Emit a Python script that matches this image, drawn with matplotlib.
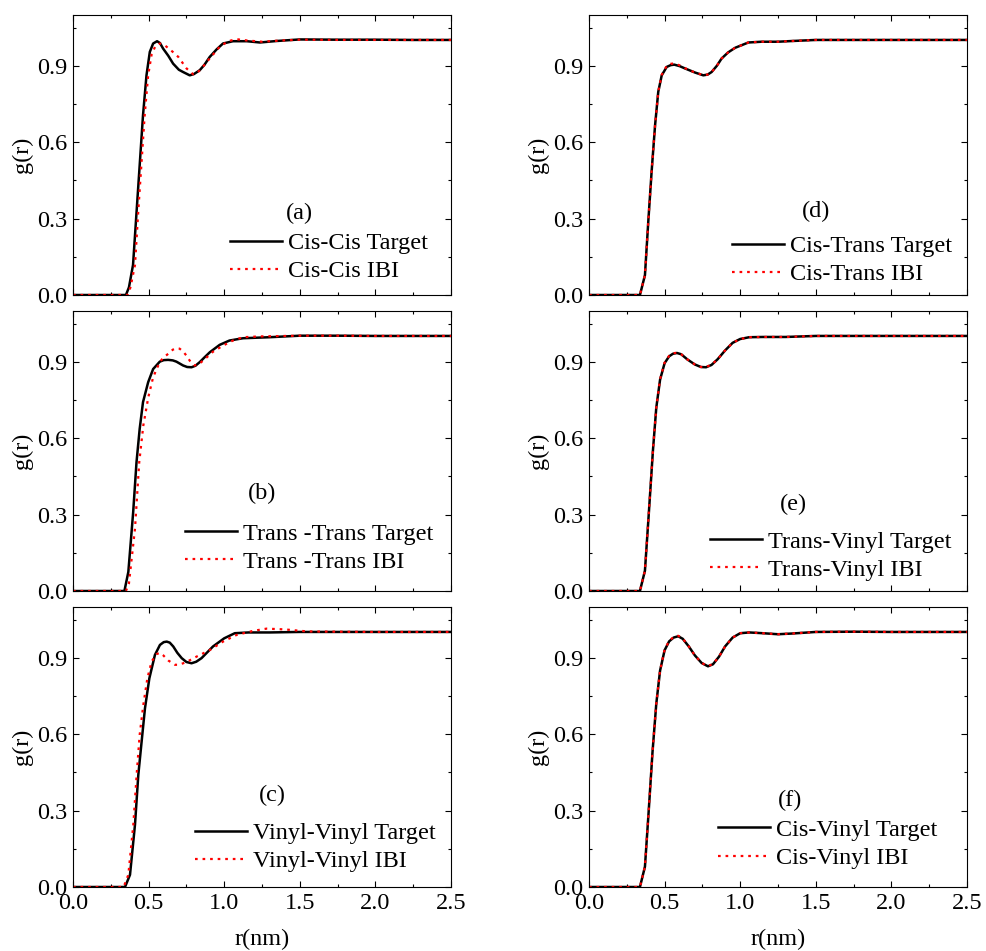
import numpy as np
import matplotlib
matplotlib.use('Agg')
import matplotlib.pyplot as plt
from matplotlib.ticker import MultipleLocator

plt.rcParams['font.family'] = ['Liberation Serif', 'DejaVu Serif']
plt.rcParams['font.size'] = 17.5

# ---- data (r in nm, g(r)) ----
# (a) Cis-Cis
ra_t = [0.0, 0.30, 0.35, 0.37, 0.397, 0.419, 0.441, 0.463, 0.486, 0.508, 0.53, 0.556, 0.575, 0.596, 0.63,
        0.662, 0.70, 0.728, 0.772, 0.80, 0.838, 0.87, 0.904, 0.95, 0.992, 1.058, 1.15, 1.236, 1.35, 1.5,
        1.75, 2.0, 2.25, 2.5]
ga_t = [0.0, 0.0, 0.0, 0.03, 0.118, 0.314, 0.51, 0.706, 0.863, 0.955, 0.988, 0.997, 0.99, 0.968, 0.94,
        0.909, 0.885, 0.876, 0.863, 0.868, 0.883, 0.905, 0.935, 0.965, 0.988, 0.997, 0.997, 0.992, 0.998, 1.004,
        1.003, 1.003, 1.002, 1.002]
ra_i = [0.0, 0.30, 0.36, 0.38, 0.41, 0.43, 0.452, 0.474, 0.497, 0.52, 0.545, 0.575, 0.60, 0.63, 0.66,
        0.697, 0.751, 0.795, 0.82, 0.85, 0.905, 0.97, 1.026, 1.08, 1.15, 1.25, 1.35, 1.5, 1.75, 2.0,
        2.25, 2.5]
ga_i = [0.0, 0.0, 0.0, 0.03, 0.118, 0.314, 0.51, 0.706, 0.863, 0.945, 0.978, 0.988, 0.984, 0.97, 0.955,
        0.935, 0.89, 0.867, 0.872, 0.89, 0.93, 0.975, 0.997, 1.005, 1.0, 0.995, 0.999, 1.003, 1.002, 1.002,
        1.002, 1.002]

# (b) Trans-Trans
rb_t = [0.0, 0.30, 0.34, 0.366, 0.398, 0.42, 0.441, 0.463, 0.497, 0.53, 0.574, 0.60, 0.629, 0.66, 0.684,
        0.728, 0.755, 0.784, 0.81, 0.838, 0.87, 0.905, 0.97, 1.035, 1.125, 1.3, 1.5, 1.75, 2.0, 2.25, 2.5]
gb_t = [0.0, 0.0, 0.0, 0.075, 0.31, 0.506, 0.637, 0.742, 0.82, 0.872, 0.901, 0.907, 0.908, 0.906, 0.901,
        0.886, 0.88, 0.879, 0.885, 0.899, 0.918, 0.938, 0.967, 0.984, 0.993, 0.997, 1.003, 1.003, 1.002, 1.002, 1.002]
rb_i = [0.0, 0.30, 0.35, 0.37, 0.41, 0.438, 0.465, 0.498, 0.53, 0.574, 0.60, 0.63, 0.66, 0.684, 0.705,
        0.728, 0.75, 0.772, 0.805, 0.83, 0.86, 0.926, 0.992, 1.058, 1.125, 1.23, 1.5, 1.75, 2.0, 2.25, 2.5]
gb_i = [0.0, 0.0, 0.0, 0.03, 0.245, 0.506, 0.65, 0.761, 0.84, 0.9, 0.918, 0.932, 0.948, 0.954, 0.952,
        0.941, 0.925, 0.905, 0.886, 0.89, 0.905, 0.94, 0.964, 0.984, 0.997, 1.0, 1.003, 1.003, 1.002, 1.002, 1.002]

# (c) Vinyl-Vinyl
rc_t = [0.0, 0.30, 0.344, 0.377, 0.41, 0.432, 0.454, 0.476, 0.505, 0.542, 0.575, 0.60, 0.62, 0.64, 0.663,
        0.69, 0.719, 0.75, 0.784, 0.815, 0.85, 0.926, 1.0, 1.07, 1.16, 1.3, 1.5, 1.75, 2.0, 2.25, 2.5]
gc_t = [0.0, 0.0, 0.0, 0.048, 0.245, 0.441, 0.572, 0.702, 0.82, 0.912, 0.951, 0.962, 0.964, 0.96, 0.945,
        0.92, 0.899, 0.884, 0.879, 0.885, 0.899, 0.945, 0.977, 0.997, 1.0, 1.0, 1.002, 1.002, 1.002, 1.002, 1.002]
rc_i = [0.0, 0.30, 0.335, 0.366, 0.399, 0.421, 0.441, 0.465, 0.492, 0.52, 0.553, 0.575, 0.597, 0.63, 0.674,
        0.70, 0.729, 0.77, 0.817, 0.905, 0.992, 1.081, 1.19, 1.28, 1.4, 1.55, 1.75, 2.0, 2.25, 2.5]
gc_i = [0.0, 0.0, 0.0, 0.048, 0.245, 0.441, 0.598, 0.715, 0.82, 0.886, 0.915, 0.92, 0.91, 0.89, 0.873,
        0.873, 0.879, 0.89, 0.905, 0.931, 0.964, 0.99, 1.006, 1.015, 1.012, 1.004, 1.003, 1.002, 1.002, 1.002]

# (d) Cis-Trans
rd_t = [0.0, 0.30, 0.337, 0.37, 0.392, 0.414, 0.437, 0.458, 0.481, 0.514, 0.54, 0.564, 0.60, 0.635, 0.701,
        0.756, 0.785, 0.811, 0.845, 0.877, 0.92, 0.966, 1.054, 1.14, 1.25, 1.35, 1.5, 1.75, 2.0, 2.25, 2.5]
gd_t = [0.0, 0.0, 0.0, 0.078, 0.288, 0.484, 0.667, 0.798, 0.863, 0.896, 0.903, 0.905, 0.899, 0.89, 0.874,
        0.863, 0.866, 0.876, 0.9, 0.929, 0.953, 0.971, 0.992, 0.995, 0.995, 0.998, 1.002, 1.002, 1.002, 1.002, 1.002]
rd_i = [0.0, 0.30, 0.337, 0.37, 0.392, 0.414, 0.437, 0.458, 0.481, 0.514, 0.54, 0.564, 0.60, 0.635, 0.701,
        0.756, 0.785, 0.811, 0.845, 0.877, 0.92, 0.966, 1.054, 1.14, 1.25, 1.35, 1.5, 1.75, 2.0, 2.25, 2.5]
gd_i = [0.0, 0.0, 0.0, 0.078, 0.288, 0.484, 0.667, 0.798, 0.865, 0.9, 0.908, 0.91, 0.902, 0.891, 0.874,
        0.864, 0.866, 0.876, 0.9, 0.929, 0.953, 0.971, 0.992, 0.995, 0.995, 0.998, 1.002, 1.002, 1.002, 1.002, 1.002]

# (e) Trans-Vinyl
re_t = [0.0, 0.30, 0.337, 0.37, 0.395, 0.423, 0.445, 0.47, 0.50, 0.53, 0.555, 0.582, 0.61, 0.65, 0.70,
        0.74, 0.774, 0.81, 0.85, 0.90, 0.95, 1.0, 1.06, 1.15, 1.3, 1.5, 1.75, 2.0, 2.25, 2.5]
ge_t = [0.0, 0.0, 0.0, 0.08, 0.3, 0.553, 0.72, 0.83, 0.895, 0.922, 0.932, 0.935, 0.93, 0.91, 0.89,
        0.88, 0.879, 0.888, 0.91, 0.945, 0.975, 0.99, 0.997, 0.998, 0.998, 1.002, 1.002, 1.002, 1.002, 1.002]
re_i = [0.0, 0.30, 0.337, 0.37, 0.395, 0.423, 0.445, 0.47, 0.50, 0.53, 0.555, 0.582, 0.61, 0.65, 0.70,
        0.74, 0.774, 0.81, 0.85, 0.90, 0.95, 1.0, 1.06, 1.15, 1.3, 1.5, 1.75, 2.0, 2.25, 2.5]
ge_i = [0.0, 0.0, 0.0, 0.08, 0.3, 0.553, 0.72, 0.832, 0.897, 0.924, 0.934, 0.936, 0.93, 0.91, 0.89,
        0.88, 0.88, 0.889, 0.91, 0.945, 0.975, 0.99, 0.997, 0.998, 0.998, 1.002, 1.002, 1.002, 1.002, 1.002]

# (f) Cis-Vinyl
rf_t = [0.0, 0.30, 0.337, 0.37, 0.395, 0.42, 0.445, 0.47, 0.50, 0.53, 0.56, 0.59, 0.62, 0.66, 0.70,
        0.745, 0.787, 0.82, 0.86, 0.90, 0.95, 1.0, 1.06, 1.15, 1.25, 1.35, 1.5, 1.75, 2.0, 2.25, 2.5]
gf_t = [0.0, 0.0, 0.0, 0.08, 0.3, 0.53, 0.72, 0.85, 0.93, 0.965, 0.98, 0.985, 0.975, 0.945, 0.91,
        0.88, 0.867, 0.875, 0.905, 0.945, 0.98, 0.997, 1.0, 0.997, 0.993, 0.996, 1.002, 1.003, 1.002, 1.002, 1.002]
rf_i = [0.0, 0.30, 0.337, 0.37, 0.395, 0.42, 0.445, 0.47, 0.50, 0.53, 0.56, 0.59, 0.62, 0.66, 0.70,
        0.745, 0.787, 0.82, 0.86, 0.90, 0.95, 1.0, 1.06, 1.15, 1.25, 1.35, 1.5, 1.75, 2.0, 2.25, 2.5]
gf_i = [0.0, 0.0, 0.0, 0.08, 0.3, 0.53, 0.72, 0.85, 0.932, 0.967, 0.982, 0.987, 0.976, 0.945, 0.91,
        0.88, 0.868, 0.876, 0.905, 0.945, 0.98, 0.997, 1.0, 0.997, 0.993, 0.996, 1.002, 1.003, 1.002, 1.002, 1.002]

panel_tags = ['(a)', '(b)', '(c)', '(d)', '(e)', '(f)']
pair_names = ['Cis-Cis', 'Trans -Trans', 'Vinyl-Vinyl', 'Cis-Trans', 'Trans-Vinyl', 'Cis-Vinyl']
series = [(ra_t, ga_t, ra_i, ga_i), (rb_t, gb_t, rb_i, gb_i), (rc_t, gc_t, rc_i, gc_i),
          (rd_t, gd_t, rd_i, gd_i), (re_t, ge_t, re_i, ge_i), (rf_t, gf_t, rf_i, gf_i)]

# layout (figure fractions) and label placement (axes / data coords)
W, H = 986, 951
col_left = [73, 589]
row_top = [15, 311, 607]
ax_w, ax_h = 378, 280
tag_pos = [(1.495, 0.322), (1.25, 0.385), (1.32, 0.36), (1.50, 0.33), (1.35, 0.34), (1.33, 0.34)]
leg_anchor = [(0.415, 0.225), (0.296, 0.244), (0.323, 0.232), (0.378, 0.213), (0.32, 0.216), (0.341, 0.243)]

fig = plt.figure(figsize=(W / 100, H / 100), dpi=100)

for k in range(6):
    col, row = k // 3, k % 3
    ax = fig.add_axes([col_left[col] / W, 1 - (row_top[row] + ax_h) / H, ax_w / W, ax_h / H])
    rt, gt, ri, gi = series[k]
    ax.plot(rt, gt, color='black', lw=1.8, label=pair_names[k] + ' Target')
    ax.plot(ri, gi, color='red', lw=1.6, dashes=(1.2, 2.2), label=pair_names[k] + ' IBI')
    ax.set_xlim(0, 2.5)
    ax.set_ylim(0, 1.1)
    ax.xaxis.set_major_locator(MultipleLocator(0.5))
    ax.xaxis.set_minor_locator(MultipleLocator(0.25))
    ax.yaxis.set_major_locator(MultipleLocator(0.3))
    ax.yaxis.set_minor_locator(MultipleLocator(0.15))
    ax.tick_params(which='both', direction='in', top=True, right=True, width=0.8)
    ax.tick_params(which='major', length=4)
    ax.tick_params(which='minor', length=2.5)
    ax.tick_params(axis='y', pad=4)
    ax.tick_params(axis='x', pad=4)
    for s in ax.spines.values():
        s.set_linewidth(0.8)
    ax.yaxis.set_major_formatter(plt.FormatStrFormatter('%.1f'))
    ax.xaxis.set_major_formatter(plt.FormatStrFormatter('%.1f'))
    ax.set_ylabel('g(r)', labelpad=3)
    if row < 2:
        ax.tick_params(labelbottom=False)
    else:
        ax.set_xlabel('r(nm)', labelpad=11)
    ax.text(tag_pos[k][0], tag_pos[k][1], panel_tags[k], ha='center', va='center')
    ax.legend(loc='upper left', bbox_to_anchor=leg_anchor[k], frameon=False, borderpad=0,
              borderaxespad=0, handlelength=2.15, handletextpad=0.25, labelspacing=0.25)

fig.savefig('out.png', dpi=100)
